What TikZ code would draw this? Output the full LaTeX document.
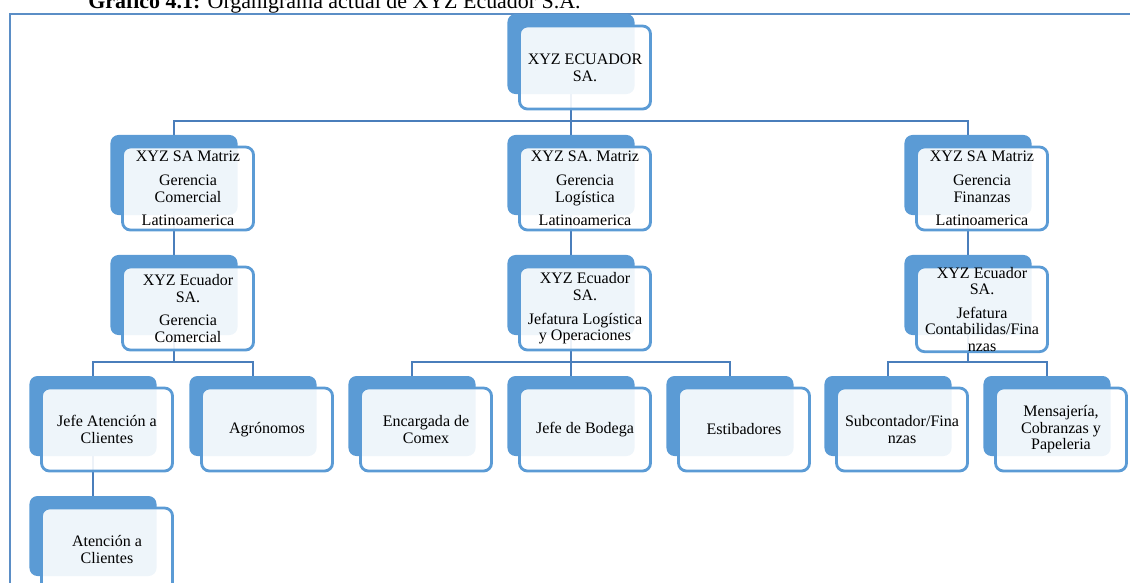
\documentclass[tikz,border=0pt]{standalone}
\usepackage{fontspec}
\setmainfont{Liberation Serif}
\usepackage{xcolor}
\usepackage{tikz}
\usetikzlibrary{positioning,backgrounds}
\definecolor{Acento}{HTML}{5B9BD5}
\definecolor{Conector}{HTML}{4A7EBB}
\definecolor{Marco}{HTML}{5B8EC6}
\newcommand{\unidad}[4]{%
  \node[fondo] (#1-f) at (#2,#3) {};
  \node[caja,below right=.3cm and .3cm of #1-f.north west] (#1) {#4};}
\tikzset{
  fondo/.style={fill=Acento,rounded corners=.2cm,minimum width=3.175cm,minimum height=2cm,anchor=north,inner sep=0,outer sep=0},
  caja/.style={draw=Acento,fill=white,fill opacity=.9,text opacity=1,line width=2pt,rounded corners=.2cm,minimum width=3.275cm,minimum height=2.075cm,align=center,inner sep=0,outer sep=0,font=\fontsize{11.4}{11.8}\selectfont},
  linea/.style={draw=Conector,line width=1.8pt},
  marco/.style={draw=Marco,line width=.8pt},
  titulo/.style={anchor=base west,inner sep=0,font=\fontsize{15.6}{18}\selectfont}
}

\begin{document}
\begin{tikzpicture}[x=.025cm,y=-.025cm]
  \useasboundingbox (0,0) rectangle (1130,583);
  \node[titulo] (titulo) at (88,9) {\textbf{Gráfico 4.1:} Organigrama actual de XYZ Ecuador S.A.};
  \draw[marco] (1140,14) -- (10,14) -- (10,600);
  \unidad{raiz}{571}{14}{XYZ ECUADOR\\SA.}
  \unidad{com}{174}{135}{XYZ SA Matriz\\[5pt]Gerencia\\Comercial\\[5pt]Latinoamerica}
  \unidad{log}{571}{135}{XYZ SA. Matriz\\[5pt]Gerencia\\Logística\\[5pt]Latinoamerica}
  \unidad{fin}{968}{135}{XYZ SA Matriz\\[5pt]Gerencia\\Finanzas\\[5pt]Latinoamerica}
  \unidad{ecucom}{174}{255}{XYZ Ecuador\\SA.\\[5pt]Gerencia\\Comercial}
  \unidad{eculog}{571}{255}{XYZ Ecuador\\SA.\\[5pt]Jefatura Logística\\y Operaciones}
  \unidad{ecufin}{968}{255}{XYZ Ecuador\\SA.\\[5pt]Jefatura\\Contabilidas/Fina\\nzas}
  \unidad{jefe}{93}{376}{Jefe Atención a\\Clientes}
  \unidad{agro}{253}{376}{Agrónomos}
  \unidad{comex}{412}{376}{Encargada de\\Comex}
  \unidad{bodega}{571}{376}{Jefe de Bodega}
  \unidad{estib}{730}{376}{Estibadores}
  \unidad{subc}{888}{376}{Subcontador/Fina\\nzas}
  \unidad{mens}{1047}{376}{Mensajería,\\Cobranzas y\\Papeleria}
  \unidad{aten}{93}{496}{Atención a\\Clientes}
  % conectores detras de las cajas
  \begin{scope}[on background layer]
    \draw[linea] (raiz-f.south) -- ++(0,27) -| (com-f.north);
    \draw[linea] (raiz-f.south) -- ++(0,27) -| (log-f.north);
    \draw[linea] (raiz-f.south) -- ++(0,27) -| (fin-f.north);
    \draw[linea] (com-f.south) -- (ecucom-f.north);
    \draw[linea] (log-f.south) -- (eculog-f.north);
    \draw[linea] (fin-f.south) -- (ecufin-f.north);
    \draw[linea] (ecucom-f.south) -- ++(0,27) -| (jefe-f.north);
    \draw[linea] (ecucom-f.south) -- ++(0,27) -| (agro-f.north);
    \draw[linea] (eculog-f.south) -- ++(0,27) -| (comex-f.north);
    \draw[linea] (eculog-f.south) -- ++(0,27) -| (bodega-f.north);
    \draw[linea] (eculog-f.south) -- ++(0,27) -| (estib-f.north);
    \draw[linea] (ecufin-f.south) -- ++(0,27) -| (subc-f.north);
    \draw[linea] (ecufin-f.south) -- ++(0,27) -| (mens-f.north);
    \draw[linea] (jefe-f.south) -- (aten-f.north);
  \end{scope}
\end{tikzpicture}
\end{document}
